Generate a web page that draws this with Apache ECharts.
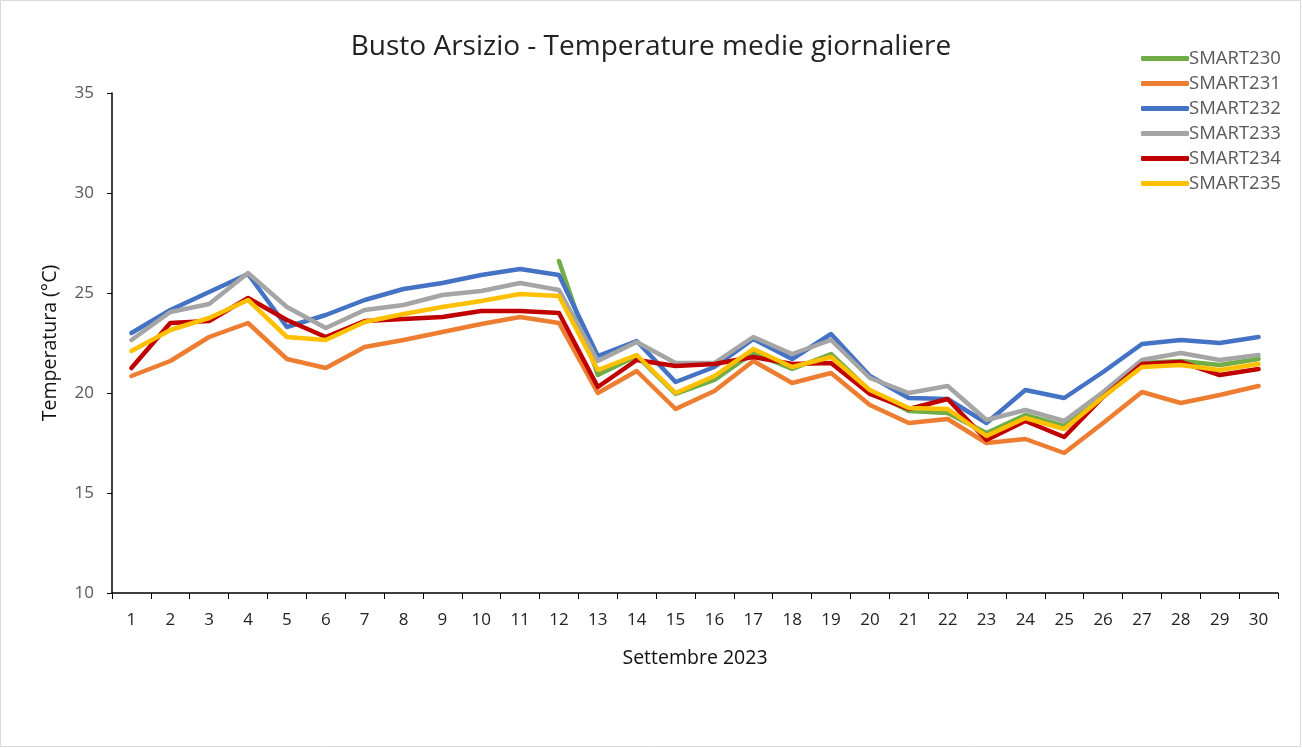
<!DOCTYPE html>
<html>
<head>
<meta charset="utf-8">
<script src="https://cdn.jsdelivr.net/npm/echarts@6/dist/echarts.min.js"></script>
<style>
html,body{margin:0;padding:0;background:#fff;}
#c{width:1302px;height:748px;}
</style>
</head>
<body>
<div id="c"></div>
<script>
const days = ['1','2','3','4','5','6','7','8','9','10','11','12','13','14','15','16','17','18','19','20','21','22','23','24','25','26','27','28','29','30'];
const seriesNames = ['SMART230','SMART231','SMART232','SMART233','SMART234','SMART235'];
const smart230 = [null,null,null,null,null,null,null,null,null,null,null,26.6,20.9,21.85,19.95,20.65,22.0,21.2,21.95,20.1,19.1,19.0,18.0,18.9,18.35,19.8,21.5,21.6,21.4,21.7];
const smart231 = [20.85,21.6,22.8,23.5,21.7,21.25,22.3,22.65,23.05,23.45,23.8,23.5,20.0,21.1,19.2,20.1,21.6,20.5,21.0,19.4,18.5,18.7,17.5,17.7,17.0,18.5,20.05,19.5,19.9,20.35];
const smart232 = [23.0,24.15,25.05,25.95,23.3,23.9,24.65,25.2,25.5,25.9,26.2,25.9,21.85,22.6,20.55,21.3,22.7,21.7,22.95,20.85,19.75,19.7,18.5,20.15,19.75,21.05,22.45,22.65,22.5,22.8];
const smart233 = [22.65,24.05,24.45,26.0,24.3,23.25,24.15,24.4,24.9,25.1,25.5,25.15,21.6,22.55,21.5,21.5,22.8,21.95,22.65,20.75,20.0,20.35,18.65,19.15,18.6,20.05,21.65,22.0,21.65,21.9];
const smart234 = [21.25,23.5,23.6,24.75,23.65,22.8,23.6,23.7,23.8,24.1,24.1,24.0,20.3,21.65,21.35,21.45,21.8,21.45,21.5,19.95,19.2,19.7,17.65,18.6,17.8,19.8,21.45,21.55,20.9,21.2];
const smart235 = [22.1,23.15,23.75,24.65,22.8,22.65,23.55,23.95,24.3,24.6,24.95,24.85,21.15,21.9,20.0,20.85,22.2,21.3,21.8,20.15,19.25,19.2,17.85,18.75,18.2,19.8,21.3,21.4,21.15,21.45];
const yTicks = {min:10, max:35, interval:5};
const colors = ['#70AD47','#ED7D31','#4472C4','#A5A5A5','#C00000','#FFC000'];
const allData = [smart230,smart231,smart232,smart233,smart234,smart235];

const chart = echarts.init(document.getElementById('c'), null, {renderer:'canvas'});
const font = '"Open Sans", "Noto Sans", sans-serif';
chart.setOption({
  animation:false,
  color: colors,
  textStyle:{fontFamily: font},
  graphic:[{type:'rect', shape:{x:0.5,y:0.5,width:1300,height:746}, style:{fill:'none', stroke:'#d9d9d9', lineWidth:1}, silent:true}],
  title:{
    text:'Busto Arsizio - Temperature medie giornaliere',
    left:'center', top:28,
    textStyle:{fontFamily:font, fontSize:28, fontWeight:'normal', color:'#222'}
  },
  legend:{
    orient:'vertical', left:1136, top:44,
    itemWidth:48, itemHeight:5, itemGap:6,
    icon:'roundRect',
    textStyle:{fontFamily:font, fontSize:18.5, color:'#595959', padding:[0,0,0,-5]},
    data: seriesNames
  },
  grid:{left:112, right:24, top:93, bottom:155, containLabel:false},
  xAxis:{
    type:'category', data: days, boundaryGap:true,
    name:'Settembre 2023', nameLocation:'middle', nameGap:55,
    nameTextStyle:{fontFamily:font, fontSize:19.5, color:'#111'},
    axisLine:{lineStyle:{color:'#000', width:1.5}},
    axisTick:{show:true, alignWithLabel:false, length:6, lineStyle:{color:'#000'}},
    axisLabel:{fontFamily:font, fontSize:17, color:'#222', margin:19},
    splitLine:{show:false}
  },
  yAxis:{
    type:'value', min:yTicks.min, max:yTicks.max, interval:yTicks.interval,
    name:'Temperatura (°C)', nameLocation:'middle', nameGap:52, nameRotate:90,
    nameTextStyle:{fontFamily:font, fontSize:19.5, color:'#111'},
    axisLine:{show:true, lineStyle:{color:'#000', width:1.5}},
    axisTick:{show:true, length:5, lineStyle:{color:'#000'}},
    axisLabel:{fontFamily:font, fontSize:17, color:'#595959', margin:18},
    splitLine:{show:false}
  },
  series: seriesNames.map((n,i)=>({
    name:n, type:'line', data: allData[i], showSymbol:false, symbol:'none',
    connectNulls:false,
    lineStyle:{width:4.5, color:colors[i], cap:'round', join:'round'},
    itemStyle:{color:colors[i]}
  }))
});
</script>
</body>
</html>
